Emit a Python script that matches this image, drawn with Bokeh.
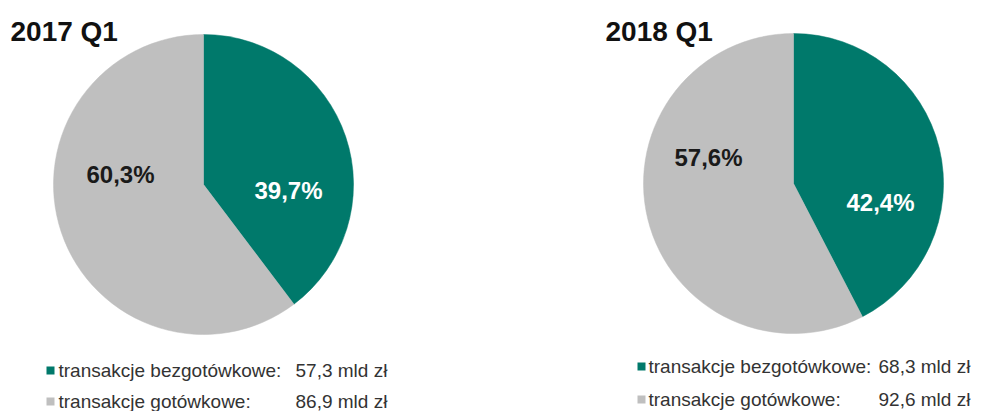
from bokeh.plotting import figure
from bokeh.models import Range1d, ColumnDataSource
from bokeh.core.properties import value
from bokeh.embed import file_html
from bokeh.resources import INLINE
import math

# ---- data ----
periods = ["2017 Q1", "2018 Q1"]
categories = ["transakcje bezgotówkowe:", "transakcje gotówkowe:"]
cashless_share = [39.7, 42.4]
cash_share = [60.3, 57.6]
cashless_value = ["57,3 mld zł", "68,3 mld zł"]
cash_value = ["86,9 mld zł", "92,6 mld zł"]

TEAL = "#00796B"
GRAY = "#BFBFBF"
FONT = "Liberation Sans"

W, H = 975, 411
p = figure(width=W, height=H, output_backend="svg", toolbar_location=None,
           x_range=Range1d(0, W), y_range=Range1d(0, H),
           min_border=0, outline_line_color=None)
p.axis.visible = False
p.grid.visible = False
p.background_fill_color = "white"

# layout (pixel positions from top-left; y converted to up-axis)
def Y(py):
    return H - py

centers = [(203, 184), (793, 183)]
radius = 150
title_pos = [(10, 31), (605, 31)]
lab_off_cashless = [(85, -6), (87, -19)]
lab_off_cash = [(-83, 10), (-85, 26)]
legend_sq_x = [50, 641]
legend_txt_x = [58, 648]
legend_val_x = [295, 878]
legend_rows = [(370, 401), (366, 399)]

for i in range(2):
    cx, cy = centers[i]
    frac = cashless_share[i] / 100.0
    top = math.pi / 2
    split = top - frac * 2 * math.pi
    src = ColumnDataSource(dict(
        x=[cx, cx], y=[Y(cy), Y(cy)],
        start=[split, top], end=[top, split + 2 * math.pi],
        color=[TEAL, GRAY]))
    p.wedge(x="x", y="y", radius=radius, start_angle="start", end_angle="end",
            fill_color="color", line_color="color", line_width=0.5, source=src)

    # percentage labels
    p.text(x=[cx + lab_off_cashless[i][0]], y=[Y(cy) + lab_off_cashless[i][1]],
           text=[f"{cashless_share[i]:.1f}%".replace(".", ",")],
           text_font=value(FONT), text_font_style="bold", text_font_size="24px",
           text_color="white", text_align="center", text_baseline="middle")
    p.text(x=[cx + lab_off_cash[i][0]], y=[Y(cy) + lab_off_cash[i][1]],
           text=[f"{cash_share[i]:.1f}%".replace(".", ",")],
           text_font=value(FONT), text_font_style="bold", text_font_size="24px",
           text_color="#1a1a1a", text_align="center", text_baseline="middle")

    # title
    tx, ty = title_pos[i]
    p.text(x=[tx], y=[Y(ty)], text=[periods[i]], text_font=value(FONT),
           text_font_style="bold", text_font_size="28px", text_color="#111111",
           text_align="left", text_baseline="middle")

    # legend
    r1, r2 = legend_rows[i]
    p.scatter(x=[legend_sq_x[i], legend_sq_x[i]], y=[Y(r1), Y(r2)], marker="square",
              size=8, fill_color=[TEAL, GRAY], line_color=None)
    p.text(x=[legend_txt_x[i]] * 2, y=[Y(r1), Y(r2)], text=categories,
           text_font=value(FONT), text_font_size="19px", text_color="#333333",
           text_align="left", text_baseline="middle")
    p.text(x=[legend_val_x[i]] * 2, y=[Y(r1), Y(r2)],
           text=[cashless_value[i], cash_value[i]],
           text_font=value(FONT), text_font_size="19px", text_color="#333333",
           text_align="left", text_baseline="middle")

open("out.html", "w").write(file_html(p, INLINE))
